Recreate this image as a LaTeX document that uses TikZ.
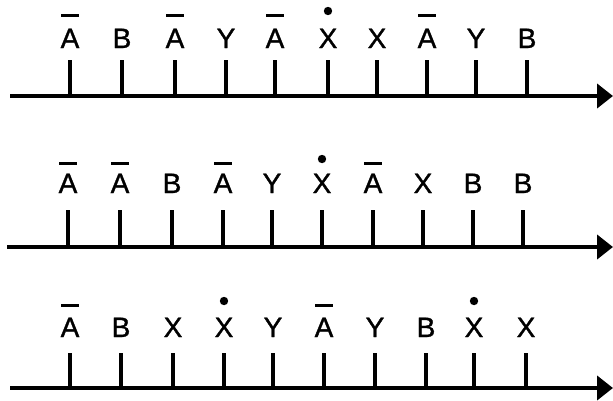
\documentclass[tikz,border=0pt]{standalone}
\usepackage{fontspec}
\setmainfont{Liberation Sans}
\newfontfamily\lblfont[FakeBold=1.2]{Liberation Sans}
\usetikzlibrary{arrows.meta}
\tikzset{
  axisline/.style={line width=4.5pt, -{Triangle[length=16pt,width=24pt]}},
  tickline/.style={line width=4.2pt},
  lbl/.style={font=\lblfont\fontsize{28}{30}\selectfont, anchor=base, inner sep=0pt},
  barline/.style={line width=3pt},
}
\newcommand\mytimeline[9]{%
  \coordinate (s#1) at (#6,#2);
  \coordinate (e#1) at (613,#2);
  \draw[axisline] (s#1) -- (e#1);
  \foreach \x/\l [count=\i] in {#7}{
    \coordinate (t#1-\i) at (\x,#3);
    \coordinate (a#1-\i) at (\x,#2);
    \draw[tickline] (t#1-\i) -- (a#1-\i);
    \node[lbl] (l#1-\i) at (\x,#4) {\l};
  }
  \foreach \x in {#8}{\draw[barline] (\x-9,#5) -- (\x+9,#5);}
  \foreach \x in {#9}{\fill (\x,#5-4) circle[radius=4.2pt];}
}
\begin{document}
\begin{tikzpicture}[x=1pt,y=-1pt]
\useasboundingbox (0,0) rectangle (613,400);
\mytimeline{1}{96}{60}{48}{15}{10}
  {70/A,122/B,175/A,226/Y,275/A,328/X,377/X,427/A,476/Y,527/B}
  {70,175,275,427}{328}
\mytimeline{2}{247}{210}{193}{163}{7}
  {68/A,120/A,172/B,223/A,272/Y,322/X,373/A,423/X,473/B,523/B}
  {68,120,223,373}{322}
\mytimeline{3}{388}{353}{337}{305}{10}
  {70/A,121/B,173/X,224/X,273/Y,324/A,375/Y,426/B,474/X,526/X}
  {70,324}{224,474}
\end{tikzpicture}
\end{document}
